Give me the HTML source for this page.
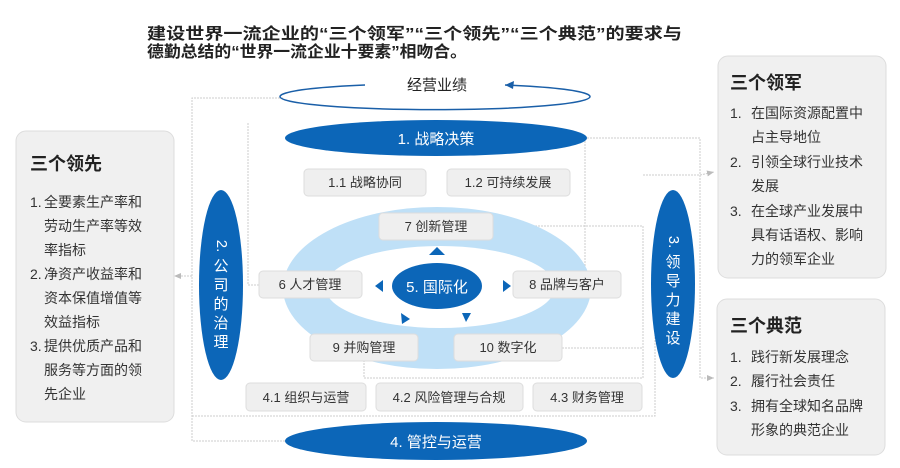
<!DOCTYPE html>
<html><head><meta charset="utf-8"><style>
html,body{margin:0;padding:0;background:#fff;}
svg{display:block;font-family:"Liberation Sans","Noto Sans CJK SC",sans-serif;}
</style></head><body>
<svg width="900" height="468" viewBox="0 0 900 468" xmlns="http://www.w3.org/2000/svg">
<defs>
<marker id="ar" markerWidth="8" markerHeight="8" refX="7" refY="4" orient="auto" markerUnits="userSpaceOnUse"><path d="M0,1 L7,4 L0,7 z" fill="#bbb"/></marker>
</defs>
<!-- title -->
<text x="147" y="39" font-size="16" font-weight="bold" fill="#222" textLength="535" lengthAdjust="spacingAndGlyphs">建设世界一流企业的“三个领军”“三个领先”“三个典范”的要求与</text>
<text x="147" y="57" font-size="16" font-weight="bold" fill="#222" textLength="320" lengthAdjust="spacingAndGlyphs">德勤总结的“世界一流企业十要素”相吻合。</text>

<!-- connectors -->
<g fill="none" stroke="#ccc" stroke-width="1" stroke-dasharray="2,1">
<polyline points="283,98 192,98 192,441 285,441"/>
<polyline points="192,276 174,276" marker-end="url(#ar)"/>
<polyline points="248,123 248,285 259,285"/>
<polyline points="192,416 655,416 655,250"/>
<polyline points="587,138 700,138 700,378 714,378" marker-end="url(#ar)"/>
<polyline points="643,175 700,175 714,172" marker-end="url(#ar)"/>
<polyline points="493,226 643,226 643,378 364,378 364,361"/>
<polyline points="562,348 643,348"/>
<polyline points="585,138 585,300"/>
</g>

<!-- top orbit -->
<path d="M365,85 A155,13 0 1 0 505,85" fill="none" stroke="#1a5fa8" stroke-width="1.5"/>
<path d="M505,85 L514,81 L513,89 z" fill="#1a5fa8"/>
<text x="437" y="90" font-size="15" fill="#222" text-anchor="middle">经营业绩</text>

<!-- strategy -->
<ellipse cx="436" cy="138" rx="151" ry="18" fill="#0c66b8"/>
<text x="436" y="144" font-size="15" fill="#fff" text-anchor="middle">1. 战略决策</text>

<g font-size="13" fill="#333" text-anchor="middle">
<rect x="304" y="169" width="122" height="27" rx="4" fill="#efefef" stroke="#ddd"/>
<text x="365" y="187">1.1 战略协同</text>
<rect x="447" y="169" width="123" height="27" rx="4" fill="#efefef" stroke="#ddd"/>
<text x="508" y="187">1.2 可持续发展</text>
</g>

<!-- ring -->
<ellipse cx="437" cy="288" rx="154" ry="81" fill="#bfe0f7"/>
<ellipse cx="440" cy="287" rx="115" ry="41" fill="#fff"/>

<g font-size="13" fill="#333" text-anchor="middle">
<rect x="379" y="213" width="114" height="27" rx="4" fill="#efefef" stroke="#ddd"/>
<text x="436" y="231">7 创新管理</text>
<rect x="259" y="271" width="103" height="27" rx="4" fill="#efefef" stroke="#ddd"/>
<text x="310" y="289">6 人才管理</text>
<rect x="513" y="271" width="108" height="27" rx="4" fill="#efefef" stroke="#ddd"/>
<text x="567" y="289">8 品牌与客户</text>
<rect x="310" y="334" width="108" height="27" rx="4" fill="#efefef" stroke="#ddd"/>
<text x="364" y="352">9 并购管理</text>
<rect x="454" y="334" width="108" height="27" rx="4" fill="#efefef" stroke="#ddd"/>
<text x="508" y="352">10 数字化</text>
<rect x="246" y="383" width="120" height="28" rx="4" fill="#efefef" stroke="#ddd"/>
<text x="306" y="402">4.1 组织与运营</text>
<rect x="376" y="383" width="147" height="28" rx="4" fill="#efefef" stroke="#ddd"/>
<text x="449" y="402">4.2 风险管理与合规</text>
<rect x="533" y="383" width="109" height="28" rx="4" fill="#efefef" stroke="#ddd"/>
<text x="587" y="402">4.3 财务管理</text>
</g>

<ellipse cx="437" cy="286" rx="45" ry="23" fill="#0c66b8"/>
<text x="437" y="292" font-size="15" fill="#fff" text-anchor="middle">5. 国际化</text>
<g fill="#0c66b8">
<path d="M429,255 L437,247 L445,255 z"/>
<path d="M375,286 L383,280 L383,292 z"/>
<path d="M503,280 L511,286 L503,292 z"/>
<path d="M401,313 L410,319 L402,324 z"/>
<path d="M462,313 L471,313 L466,322 z"/>
</g>

<!-- bottom ellipse -->
<ellipse cx="436" cy="441" rx="151" ry="19" fill="#0c66b8"/>
<text x="436" y="447" font-size="15" fill="#fff" text-anchor="middle">4. 管控与运营</text>

<!-- vertical ellipses -->
<ellipse cx="221" cy="285" rx="22" ry="95" fill="#0c66b8"/>
<g font-size="15" fill="#fff" text-anchor="middle">
<text x="221" y="250" transform="rotate(90 221 246)">2.</text>
<text x="221" y="271">公</text><text x="221" y="290">司</text><text x="221" y="309">的</text><text x="221" y="328">治</text><text x="221" y="347">理</text>
</g>
<ellipse cx="673" cy="284" rx="22" ry="94" fill="#0c66b8"/>
<g font-size="15" fill="#fff" text-anchor="middle">
<text x="673" y="246" transform="rotate(90 673 242)">3.</text>
<text x="673" y="267">领</text><text x="673" y="286">导</text><text x="673" y="305">力</text><text x="673" y="324">建</text><text x="673" y="343">设</text>
</g>

<!-- left box -->
<rect x="16" y="131" width="158" height="291" rx="10" fill="#f0f0f0" stroke="#ddd"/>
<text x="30" y="170" font-size="18" font-weight="bold" fill="#222">三个领先</text>
<g font-size="14" fill="#333">
<text x="30" y="207">1.</text><text x="44" y="207">全要素生产率和</text>
<text x="44" y="231">劳动生产率等效</text>
<text x="44" y="255">率指标</text>
<text x="30" y="279">2.</text><text x="44" y="279">净资产收益率和</text>
<text x="44" y="303">资本保值增值等</text>
<text x="44" y="327">效益指标</text>
<text x="30" y="351">3.</text><text x="44" y="351">提供优质产品和</text>
<text x="44" y="375">服务等方面的领</text>
<text x="44" y="399">先企业</text>
</g>

<!-- right top -->
<rect x="718" y="56" width="168" height="222" rx="10" fill="#f0f0f0" stroke="#ddd"/>
<text x="730" y="89" font-size="18" font-weight="bold" fill="#222">三个领军</text>
<g font-size="14" fill="#333">
<text x="730" y="118">1.</text><text x="751" y="118">在国际资源配置中</text>
<text x="751" y="142">占主导地位</text>
<text x="730" y="167">2.</text><text x="751" y="167">引领全球行业技术</text>
<text x="751" y="191">发展</text>
<text x="730" y="216">3.</text><text x="751" y="216">在全球产业发展中</text>
<text x="751" y="240">具有话语权、影响</text>
<text x="751" y="264">力的领军企业</text>
</g>

<!-- right bottom -->
<rect x="717" y="299" width="168" height="156" rx="10" fill="#f0f0f0" stroke="#ddd"/>
<text x="730" y="332" font-size="18" font-weight="bold" fill="#222">三个典范</text>
<g font-size="14" fill="#333">
<text x="730" y="362">1.</text><text x="751" y="362">践行新发展理念</text>
<text x="730" y="386">2.</text><text x="751" y="386">履行社会责任</text>
<text x="730" y="411">3.</text><text x="751" y="411">拥有全球知名品牌</text>
<text x="751" y="435">形象的典范企业</text>
</g>
</svg>
</body></html>
